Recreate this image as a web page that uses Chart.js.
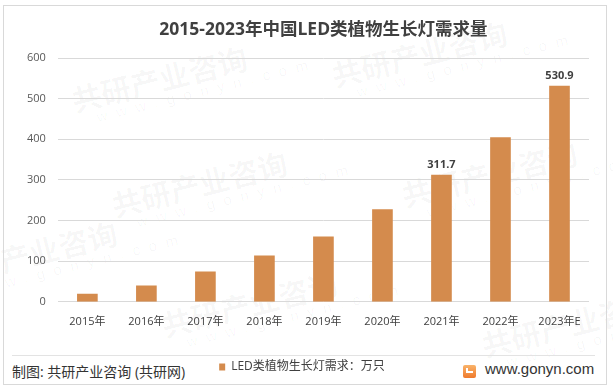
<!DOCTYPE html>
<html>
<head>
<meta charset="utf-8">
<script src="https://cdn.jsdelivr.net/npm/chart.js@4"></script>
<style>
  html, body { margin: 0; padding: 0; background: #fff; }
  body { width: 613px; height: 391px; position: relative; overflow: hidden;
         font-family: 'Open Sans', 'Noto Sans CJK SC', sans-serif; }
  .frame { position: absolute; left: 3px; top: 5px; width: 602px; height: 378px; border: 1px solid #d9d9d9; }
  .sep { position: absolute; left: 12px; top: 355px; width: 583px; height: 1px; background: #e3e3e3; }
  .source { position: absolute; left: 12px; top: 361px; font-size: 14px; color: #333; white-space: nowrap; }
  .site { position: absolute; left: 485px; top: 360px; font-size: 15px; color: #333;
          font-family: 'Liberation Sans', sans-serif; }
  .logo { position: absolute; left: 463px; top: 365px; width: 13px; height: 13px; border-radius: 2px;
          background: linear-gradient(#f9b36a, #ef7a2c); }
  .logo::after { content: ''; position: absolute; left: 3px; top: 3px; width: 5px; height: 3px;
          border-left: 2px solid #fff; border-bottom: 2px solid #fff; }
  .wm { position: absolute; color: rgba(0,0,0,0.035); transform: rotate(-14deg); white-space: nowrap;
        font-family: 'Noto Sans CJK SC', sans-serif; font-weight: bold; font-size: 30px; line-height: 1; }
  .wm small { display: block; font-size: 15px; letter-spacing: 9px; font-weight: normal;
        font-family: 'Liberation Sans', sans-serif; margin-left: 20px; }
  #wrap { position: absolute; left: 0; top: 0; width: 613px; height: 391px; }
</style>
</head>
<body>
<div class="wm" style="left:70px;top:55px">共研产业咨询<small>www.gonyn.com</small></div>
<div class="wm" style="left:330px;top:30px">共研产业咨询<small>www.gonyn.com</small></div>
<div class="wm" style="left:110px;top:160px">共研产业咨询<small>www.gonyn.com</small></div>
<div class="wm" style="left:400px;top:150px">共研产业咨询<small>www.gonyn.com</small></div>
<div class="wm" style="left:160px;top:280px">共研产业咨询<small>www.gonyn.com</small></div>
<div class="wm" style="left:-60px;top:230px">共研产业咨询<small>www.gonyn.com</small></div>
<div class="wm" style="left:480px;top:300px">共研产业咨询<small>www.gonyn.com</small></div>
<div class="frame"></div>
<div class="sep"></div>
<div class="source">制图: 共研产业咨询 (共研网)</div>
<div class="logo"></div>
<div class="site">www.gonyn.com</div>
<div id="wrap"><canvas id="demandChart"></canvas></div>
<script>
// data
const years = ['2015年', '2016年', '2017年', '2018年', '2019年', '2020年', '2021年', '2022年', '2023年E'];
const demand = [19, 39, 74, 113, 160, 227, 311.7, 404, 530.9];
const labelledBars = [6, 8]; // only these bars carry a value label
const yMax = 600;
const yStep = 100;

const seriesName = 'LED类植物生长灯需求：万只';
const chartTitle = '2015-2023年中国LED类植物生长灯需求量';

const FONT = "'Open Sans', 'Noto Sans CJK SC', sans-serif";

// value labels above selected bars
const valueLabels = {
  id: 'valueLabels',
  afterDatasetsDraw(chart) {
    const ctx = chart.ctx;
    const meta = chart.getDatasetMeta(0);
    ctx.save();
    ctx.font = 'bold 11px ' + FONT;
    ctx.fillStyle = '#404040';
    ctx.textAlign = 'center';
    ctx.textBaseline = 'bottom';
    labelledBars.forEach(i => {
      const bar = meta.data[i];
      ctx.fillText(demand[i].toFixed(1), bar.x, bar.y - 5);
    });
    ctx.restore();
  }
};

const ctx = document.getElementById('demandChart').getContext('2d');
new Chart(ctx, {
  type: 'bar',
  data: {
    labels: years,
    datasets: [
      {
        label: seriesName,
        data: demand,
        backgroundColor: '#D48B4D',
        barThickness: 20,
      },
    ],
  },
  options: {
    responsive: true,
    maintainAspectRatio: false,
    animation: false,
    layout: { padding: { left: 15, right: 24, top: 0, bottom: 8 } },
    scales: {
      x: {
        grid: { display: false },
        border: { display: false },
        ticks: { color: '#404040', padding: 5, font: { family: FONT, size: 11 } },
        afterFit(scale) { scale.height += 18; }
      },
      y: {
        min: 0,
        max: yMax,
        grid: { color: '#d9d9d9', drawTicks: false },
        border: { display: false },
        ticks: { stepSize: yStep, color: '#595959', padding: 12, font: { family: FONT, size: 11 } }
      }
    },
    plugins: {
      title: {
        display: true,
        fullSize: false,
        text: chartTitle,
        color: '#404040',
        font: { family: FONT, size: 17.5, weight: 'bold' },
        padding: { top: 20, bottom: 17 }
      },
      legend: {
        display: true,
        position: 'bottom',
        labels: {
          color: '#404040',
          font: { family: FONT, size: 12 },
          boxWidth: 6,
          boxHeight: 7,
          padding: 10
        }
      },
      tooltip: { enabled: false }
    }
  },
  plugins: [valueLabels]
});
</script>
</body>
</html>
